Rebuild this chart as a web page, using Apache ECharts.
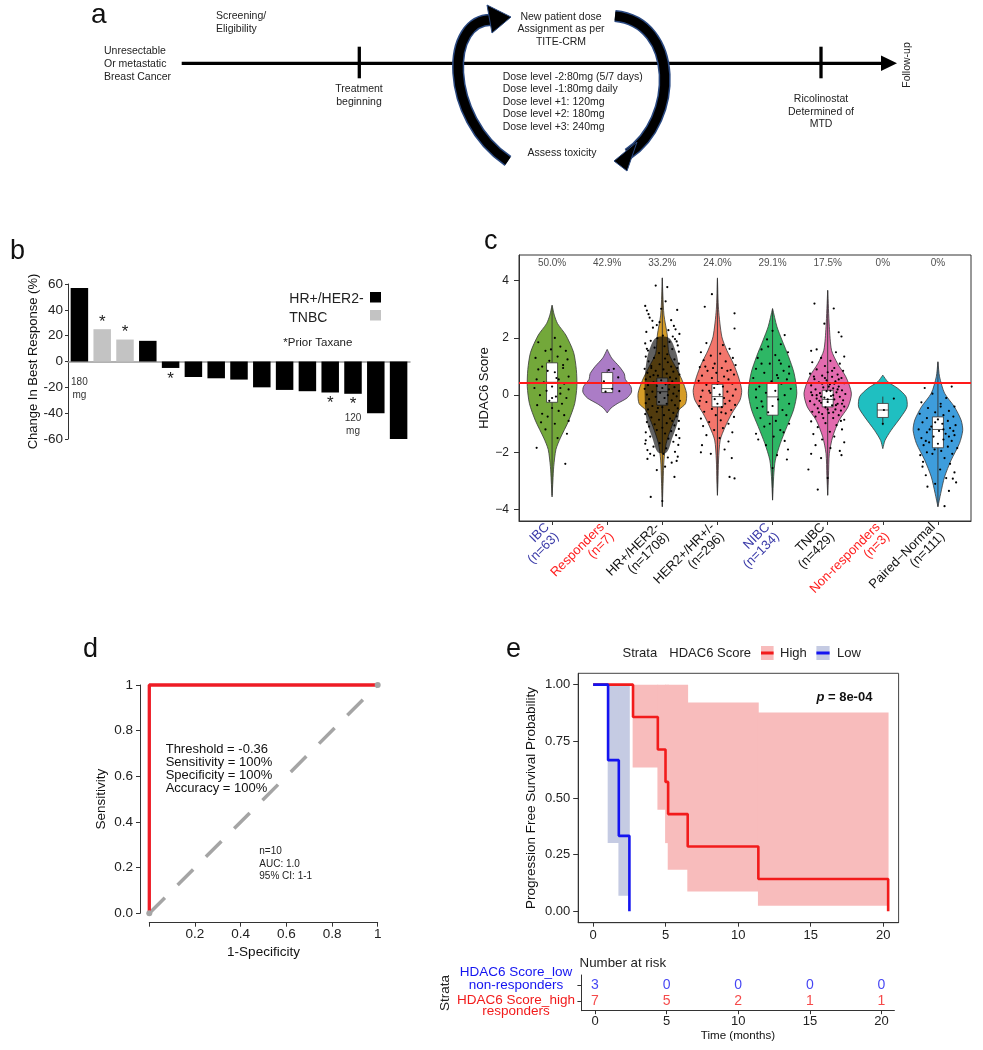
<!DOCTYPE html>
<html>
<head>
<meta charset="utf-8">
<title>Ricolinostat / HDAC6 figure</title>
<script src="https://cdn.jsdelivr.net/npm/echarts@6/dist/echarts.min.js"></script>
<style>
  html, body { margin: 0; background: #fff; }
  #chart { width: 983px; height: 1050px; }
</style>
</head>
<body>
<div id="chart"></div>
<script>
// ---- b: best response waterfall ----
const patients = ['1','2','3','4','5','6','7','8','9','10','11','12','13','14','15'];
const bestResponse = [57, 25, 17, 16, -5, -12, -13, -14, -20, -22, -23, -24, -25, -40, -60];
const subtype = ['HR','TNBC','TNBC','HR','HR','HR','HR','HR','HR','HR','HR','HR','HR','HR','HR'];
const priorTaxane = [0, 1, 1, 0, 1, 0, 0, 0, 0, 0, 0, 1, 1, 0, 0];
const doseNote = ['180\nmg', '', '', '', '', '', '', '', '', '', '', '', '120\nmg', '', ''];

// ---- c: HDAC6 score violins ----
const groupNames = ['IBC', 'Responders', 'HR+/HER2-', 'HER2+/HR+/-', 'NIBC', 'TNBC', 'Non-responders', 'Paired−Normal'];
const groupN = [63, 7, 1708, 296, 134, 429, 3, 111];
const highPct = ['50.0%', '42.9%', '33.2%', '24.0%', '29.1%', '17.5%', '0%', '0%'];
const hdac6Cutoff = 0.45;
const scoreTicks = [-4, -2, 0, 2, 4];
// density outline: score levels and half widths (in category units)
const violinY = [
  [3.15, 2.8, 2.5, 2.1, 1.5, 0.9, 0.3, -0.3, -0.9, -1.5, -1.9, -2.5, -3.0, -3.56],
  [1.6, 1.3, 1.0, 0.75, 0.55, 0.3, 0.1, -0.1, -0.3, -0.45, -0.62],
  [4.1, 3.5, 2.8, 2.1, 1.46, 0.99, 0.52, 0.06, -0.3, -0.52, -1.1, -1.69, -2.27, -3.0, -3.9],
  [4.1, 3.0, 2.04, 1.57, 1.1, 0.64, 0.17, -0.17, -0.64, -1.11, -1.57, -2.27, -3.0, -3.5],
  [3.03, 2.39, 1.93, 1.35, 0.77, 0.07, -0.52, -1.1, -1.69, -2.27, -2.85, -3.67],
  [3.67, 2.39, 1.57, 1.1, 0.64, 0.07, -0.41, -0.87, -1.46, -2.04, -2.8, -3.5],
  [0.7, 0.47, 0.24, -0.05, -0.41, -0.76, -1.23, -1.58, -1.87],
  [1.17, 0.64, 0.07, -0.41, -0.87, -1.23, -1.69, -2.27, -2.86, -3.44, -3.9]
];
const violinHW = [
  [0, 0.04, 0.1, 0.25, 0.39, 0.44, 0.45, 0.41, 0.30, 0.15, 0.07, 0.03, 0.015, 0],
  [0, 0.08, 0.22, 0.31, 0.33, 0.43, 0.44, 0.36, 0.18, 0.07, 0],
  [0, 0.01, 0.03, 0.09, 0.12, 0.24, 0.36, 0.44, 0.42, 0.30, 0.17, 0.07, 0.03, 0.015, 0],
  [0, 0.02, 0.08, 0.17, 0.29, 0.38, 0.44, 0.41, 0.26, 0.14, 0.05, 0.02, 0.01, 0],
  [0, 0.08, 0.17, 0.29, 0.39, 0.44, 0.38, 0.26, 0.14, 0.05, 0.02, 0],
  [0, 0.03, 0.07, 0.18, 0.33, 0.43, 0.37, 0.21, 0.09, 0.03, 0.015, 0],
  [0, 0.09, 0.27, 0.42, 0.44, 0.33, 0.15, 0.04, 0],
  [0, 0.03, 0.12, 0.30, 0.42, 0.45, 0.39, 0.24, 0.12, 0.05, 0]
];
// q1, median, q3
const boxStats = [[-0.25, 0.45, 1.13], [0.09, 0.23, 0.79], [-0.35, 0.12, 0.6], [-0.41, -0.05, 0.38],
  [-0.7, -0.06, 0.41], [-0.41, -0.15, 0.17], [-0.78, -0.52, -0.29], [-1.84, -1.2, -0.76]];
const whiskers = [[-3.5, 3.1], [0.09, 0.9], [-3.9, 4.1], [-3.5, 4.05], [-3.67, 3.0], [-3.5, 3.65], [-1.05, -0.05], [-3.9, 1.15]];
// dense point cloud of HR+/HER2- (too many samples to show one by one)
const hrDenseY = [2.0, 1.5, 1.0, 0.5, 0.0, -0.5, -1.0, -1.5, -2.0];
const hrDenseHW = [0.12, 0.25, 0.3, 0.32, 0.32, 0.31, 0.27, 0.18, 0.08];
// jittered samples: [offset from group centre, score]
const ptsIBC = [[-0.25,1.85],[0.05,2.0],[0.15,1.7],[-0.12,1.55],[0.25,1.55],[-0.3,1.3],[0.1,1.35],[-0.05,1.2],[0.28,1.25],[-0.18,1.0],[0.2,0.95],[-0.08,0.85],[0.05,0.8],[0.3,0.65],[-0.28,0.55],[0.12,0.55],[-0.15,0.45],[0.22,0.4],[0.0,0.3],[-0.32,0.25],[0.3,0.2],[-0.1,0.15],[0.15,0.05],[-0.22,0.0],[0.07,-0.05],[0.26,-0.1],[-0.05,-0.2],[0.18,-0.3],[-0.27,-0.35],[0.0,-0.45],[0.12,-0.55],[-0.18,-0.65],[0.22,-0.7],[-0.08,-0.75],[0.3,-0.9],[-0.2,-0.95],[0.05,-1.0],[0.27,-1.35],[-0.12,-1.2],[0.1,-1.5],[-0.28,-1.84],[0.24,-2.4],[0.08,0.6],[-0.02,1.6],[0.2,1.05],[-0.25,0.9],[0.0,-0.1],[0.15,0.25]];
const ptsResp = [[0.03,0.88],[0.12,0.92],[0.2,0.62],[-0.06,0.48],[0.09,0.22],[-0.03,0.12],[0.22,0.14]];
const ptsHR = [[-0.12,3.83],[0.09,3.78],[0.06,3.28],[-0.02,3.02],[-0.28,2.96],[-0.25,2.83],[-0.31,3.12],[-0.23,2.71],[0.27,2.98],[0.16,2.62],[-0.05,2.55],[0.21,2.42],[-0.17,2.36],[0.11,2.27],[-0.29,2.21],[0.31,2.14],[0.01,2.08],[-0.09,1.99],[0.23,1.96],[-0.21,1.9],[0.13,1.86],[-0.31,1.81],[0.28,1.74],[0.04,1.71],[-0.14,1.66],[0.18,1.61],[-0.26,1.56],[0.3,1.52],[-0.06,1.47],[0.09,1.43],[0.24,2.3],[-0.18,2.6],[0.26,1.88],[-0.28,1.62],[0.19,2.05],[-0.1,2.45],
  [-0.3,1.35],[-0.15,1.3],[0.05,1.28],[0.22,1.25],[-0.25,1.18],[0.1,1.15],[0.3,1.1],[-0.05,1.08],[-0.2,1.02],[0.16,1.0],[0.27,0.95],[-0.32,0.92],[0.02,0.9],[-0.12,0.85],[0.2,0.82],[-0.27,0.78],[0.08,0.75],[0.31,0.72],[-0.08,0.68],[-0.22,0.64],[0.14,0.62],[0.25,0.58],[-0.3,0.55],[-0.02,0.52],[0.18,0.48],[-0.16,0.45],[0.29,0.42],[0.06,0.38],[-0.26,0.35],[-0.1,0.32],[0.22,0.28],[0.0,0.25],[-0.32,0.22],[0.12,0.2],[0.3,0.15],[-0.18,0.12],[-0.04,0.08],[0.2,0.05],[-0.28,0.02],[0.1,0.0],[0.26,-0.04],[-0.12,-0.06],[0.04,-0.1],[-0.24,-0.14],[0.17,-0.18],[0.32,-0.2],[-0.06,-0.24],[-0.3,-0.28],[0.08,-0.3],[0.23,-0.35],[-0.18,-0.38],[0.0,-0.42],[0.28,-0.46],[-0.26,-0.5],[0.12,-0.52],[-0.1,-0.58],[0.2,-0.62],[-0.31,-0.66],[0.03,-0.7],[0.26,-0.74],[-0.2,-0.78],[0.14,-0.82],[-0.06,-0.86],[0.3,-0.9],[-0.28,-0.94],[0.08,-0.98],[-0.14,-1.02],[0.22,-1.06],[-0.24,-1.1],[0.0,-1.14],[0.3,-1.18],[-0.1,-1.22],[0.16,-1.26],[-0.3,-1.3],[0.05,-1.34],[-0.2,0.95],[0.13,0.4],[-0.08,-0.45],[0.18,-0.9],[-0.16,0.7],
  [0.25,-1.4],[-0.22,-1.45],[0.11,-1.52],[-0.3,-1.58],[0.2,-1.63],[-0.05,-1.68],[0.29,-1.74],[-0.16,-1.8],[0.07,-1.86],[-0.27,-1.92],[0.23,-1.98],[-0.22,-2.05],[-0.15,-2.11],[0.1,-2.18],[-0.27,-2.23],[0.26,-2.3],[0.17,-2.36],[0.05,-2.5],[-0.1,-2.62],[0.28,-2.15],[0.22,-2.86],[-0.21,-3.56],[0.0,-3.7],[-0.31,-1.7],[0.31,-1.5],[0.02,-2.05]];
const ptsHER2 = [[-0.1,3.53],[-0.23,3.09],[0.31,2.86],[0.31,2.33],[-0.2,1.82],[0.1,1.75],[-0.3,1.5],[0.22,1.62],[0.05,1.45],[-0.12,1.38],[0.28,1.3],[-0.25,1.22],[0.15,1.18],[-0.05,1.1],[0.33,1.05],[-0.32,0.98],[0.08,0.95],[0.24,0.88],[-0.18,0.85],[-0.02,0.78],[0.3,0.72],[-0.28,0.68],[0.12,0.65],[-0.1,0.6],[0.2,0.55],[-0.34,0.5],[0.02,0.45],[0.27,0.4],[-0.2,0.36],[0.1,0.3],[-0.06,0.25],[0.33,0.2],[-0.27,0.16],[0.18,0.12],[-0.13,0.08],[0.04,0.02],[0.28,-0.02],[-0.3,-0.06],[0.12,-0.1],[-0.05,-0.14],[0.22,-0.2],[-0.2,-0.24],[0.0,-0.3],[0.32,-0.34],[-0.33,-0.38],[0.08,-0.42],[-0.1,-0.48],[0.25,-0.52],[-0.24,-0.58],[0.15,-0.64],[-0.03,-0.7],[0.3,-0.76],[-0.3,-0.82],[0.06,-0.88],[-0.15,-0.94],[0.2,-1.0],[-0.26,-1.08],[0.1,-1.15],[-0.06,-1.22],[0.27,-1.3],[-0.2,-1.4],[0.04,-1.5],[0.2,-1.62],[-0.28,-1.75],[0.13,-1.9],[-0.12,-2.05],[0.26,-2.2],[-0.3,-2.0],[0.22,-2.86],[0.31,-2.91],[0.0,0.4],[-0.15,0.15],[0.14,-0.3],[-0.08,0.95],[0.07,-0.6],[-0.22,1.0],[0.18,0.85],[-0.32,-0.2]];
const ptsNIBC = [[0.0,2.25],[0.22,2.1],[-0.1,1.95],[0.15,1.78],[-0.2,1.6],[0.28,1.5],[0.05,1.4],[-0.27,1.3],[0.12,1.22],[-0.05,1.1],[0.3,1.0],[-0.3,0.92],[0.2,0.85],[-0.15,0.78],[0.08,0.7],[-0.35,0.6],[0.26,0.55],[-0.02,0.48],[0.16,0.4],[-0.24,0.3],[0.33,0.22],[0.05,0.15],[-0.12,0.08],[0.22,0.0],[-0.3,-0.08],[0.1,-0.15],[-0.2,-0.22],[0.3,-0.3],[0.0,-0.38],[-0.28,-0.45],[0.18,-0.52],[-0.08,-0.6],[0.25,-0.7],[-0.22,-0.8],[0.06,-0.9],[0.3,-1.0],[-0.15,-1.1],[0.14,-1.22],[-0.3,-1.35],[0.02,-1.45],[0.22,-1.6],[-0.12,-1.75],[0.28,-1.9],[-0.26,-1.55],[0.08,-2.1],[0.0,-2.55],[-0.08,1.7],[0.1,0.6],[-0.18,-0.4],[0.2,-1.3],[-0.3,0.2],[0.3,0.75],[-0.05,-1.0],[0.15,1.1],[-0.2,1.1],[0.26,-2.25]];
const ptsTNBC = [[-0.24,3.2],[0.11,3.03],[-0.06,2.5],[0.25,2.05],[0.2,2.2],[-0.3,1.55],[-0.2,1.6],[0.15,1.5],[0.3,1.35],[-0.12,1.3],[0.05,1.2],[-0.28,1.15],[0.22,1.1],[-0.05,1.02],[0.12,0.95],[-0.2,0.9],[0.28,0.85],[0.0,0.8],[-0.32,0.75],[0.18,0.72],[-0.1,0.68],[0.08,0.64],[0.25,0.6],[-0.24,0.56],[-0.02,0.52],[0.14,0.48],[-0.16,0.45],[0.3,0.42],[0.04,0.38],[-0.3,0.34],[0.2,0.3],[-0.08,0.27],[0.1,0.24],[-0.22,0.2],[0.26,0.17],[-0.02,0.14],[0.16,0.1],[-0.14,0.07],[0.32,0.04],[-0.28,0.0],[0.06,-0.03],[0.22,-0.06],[-0.06,-0.09],[-0.2,-0.12],[0.12,-0.15],[0.28,-0.18],[-0.32,-0.21],[0.0,-0.24],[-0.12,-0.27],[0.18,-0.3],[-0.24,-0.33],[0.08,-0.36],[0.3,-0.4],[-0.04,-0.43],[-0.18,-0.46],[0.14,-0.5],[0.24,-0.54],[-0.28,-0.58],[0.02,-0.62],[-0.1,-0.66],[0.2,-0.7],[-0.22,-0.75],[0.1,-0.8],[0.3,-0.86],[-0.3,-0.92],[-0.04,-0.98],[0.16,-1.05],[-0.18,-1.12],[0.26,-1.2],[0.04,-1.28],[-0.26,-1.36],[0.12,-1.45],[-0.1,-1.55],[0.3,-1.65],[-0.22,-1.75],[0.05,-1.85],[0.22,-1.95],[-0.3,-2.05],[-0.12,-2.2],[0.25,-2.1],[-0.35,-2.6],[0.0,-2.9],[-0.18,-3.3],[0.1,0.0],[-0.1,0.4],[0.0,-0.5],[0.05,0.15],[-0.15,-0.2],[0.2,0.55],[-0.08,-0.8],[0.15,-0.35],[-0.25,0.65],[0.02,0.3],[-0.05,0.6],[0.1,-0.6],[0.26,-0.3],[-0.3,0.1],[0.08,0.85],[-0.12,-0.05],[0.18,0.2],[0.0,-0.15],[-0.2,0.0],[0.12,0.4],[0.24,-0.9],[-0.16,-0.6]];
const ptsNonResp = [[0.2,-0.12],[0.02,-0.52],[0.0,-1.0]];
const ptsNormal = [[-0.24,0.25],[0.25,0.3],[-0.1,0.05],[0.15,-0.1],[-0.3,-0.25],[0.05,-0.3],[0.3,-0.4],[-0.18,-0.45],[0.2,-0.55],[-0.05,-0.6],[-0.33,-0.65],[0.1,-0.7],[0.28,-0.75],[-0.2,-0.8],[0.0,-0.85],[0.18,-0.9],[-0.28,-0.95],[0.08,-1.0],[0.32,-1.05],[-0.12,-1.1],[0.22,-1.15],[-0.35,-1.2],[0.02,-1.25],[-0.2,-1.3],[0.14,-1.35],[0.3,-1.4],[-0.08,-1.45],[-0.3,-1.5],[0.1,-1.55],[0.25,-1.6],[-0.16,-1.65],[0.0,-1.7],[-0.26,-1.75],[0.18,-1.8],[0.35,-1.85],[-0.06,-1.9],[0.06,-1.95],[-0.2,-2.0],[0.26,-2.05],[-0.32,-2.1],[0.12,-2.2],[-0.27,-2.33],[0.22,-2.4],[-0.28,-2.5],[0.04,-2.6],[0.3,-2.7],[-0.22,-2.8],[0.15,-2.9],[-0.19,-3.2],[0.27,-2.92],[0.33,-3.05],[-0.05,-3.1],[0.2,-3.35],[0.12,-3.88],[-0.15,-1.2],[0.1,-1.2],[-0.05,-0.95],[0.2,-1.45],[-0.22,-1.6],[0.05,-0.4],[-0.1,-2.05],[0.28,-1.25]];
const groupPoints = [ptsIBC, ptsResp, ptsHR, ptsHER2, ptsNIBC, ptsTNBC, ptsNonResp, ptsNormal];

// ---- d: ROC ----
const rocFpr = [0, 0, 1];
const rocTpr = [0, 1, 1];
const chanceFpr = [0, 1];
const chanceTpr = [0, 1];

// ---- e: Kaplan-Meier ----
const lowTimes = [0, 1.03, 1.77, 2.5];
const lowSurv = [1, 0.667, 0.333, 0];
const lowCiLower = [1, 0.301, 0.069];
const lowCiUpper = [1, 1, 1];
const highTimes = [0, 2.75, 4.46, 4.99, 5.17, 6.52, 11.39, 20.34];
const highSurv = [1, 0.857, 0.714, 0.571, 0.429, 0.286, 0.143, 0];
const highCiLower = [1, 0.634, 0.448, 0.301, 0.184, 0.088, 0.025];
const highCiUpper = [1, 1, 1, 1, 1, 0.921, 0.877];
const timeTicks = [0, 5, 10, 15, 20];
const riskTimes = [0, 5, 10, 15, 20];
const riskLow = [3, 0, 0, 0, 0];
const riskHigh = [7, 5, 2, 1, 1];

// ---- styling ----
const FONT = 'Liberation Sans, Arial, sans-serif';
const violinColors = ['#73a83a', '#ab7cc6', '#d59c27', '#f3766c', '#2eb765', '#e26bae', '#1fbfc1', '#3e9ddc'];
const labelTone = ['b', 'r', 'k', 'k', 'b', 'k', 'r', 'k'];
const RED = '#f21b1b', BLUE = '#1414f0';

const chart = echarts.init(document.getElementById('chart'));

function violinItem(params, api) {
  const g = api.value(2);
  const cx = g + 1;
  const ys = violinY[g], ws = violinHW[g];
  const right = ys.map((y, k) => api.coord([cx + ws[k], y]));
  const left = ys.map((y, k) => api.coord([cx - ws[k], y])).reverse();
  const st = boxStats[g];
  const a = api.coord([cx - 0.1, st[2]]), b = api.coord([cx + 0.1, st[0]]);
  const m1 = api.coord([cx - 0.1, st[1]]), m2 = api.coord([cx + 0.1, st[1]]);
  const w1 = api.coord([cx, whiskers[g][1]]), w2 = api.coord([cx, whiskers[g][0]]);
  return {
    type: 'group',
    children: [
      { type: 'polygon', shape: { points: right.concat(left), smooth: 0.25 },
        style: { fill: violinColors[g], stroke: '#3a3a3a', lineWidth: 0.8 } },
      { type: 'line', shape: { x1: w1[0], y1: w1[1], x2: w2[0], y2: w2[1] }, style: { stroke: '#333', lineWidth: 0.9 } },
      { type: 'rect', shape: { x: a[0], y: a[1], width: b[0] - a[0], height: b[1] - a[1] },
        style: { fill: '#fff', stroke: '#333', lineWidth: 0.8 } },
      { type: 'line', shape: { x1: m1[0], y1: m1[1], x2: m2[0], y2: m2[1] }, style: { stroke: '#333', lineWidth: 0.8 } }
    ]
  };
}

function denseItem(params, api) {
  const cx = api.value(0);
  const right = hrDenseY.map((y, k) => api.coord([cx + hrDenseHW[k], y]));
  const left = hrDenseY.map((y, k) => api.coord([cx - hrDenseHW[k], y])).reverse();
  return { type: 'polygon', shape: { points: right.concat(left), smooth: 0.3 },
    style: { fill: 'rgba(0,0,0,0.62)' } };
}

function bandItem(params, api) {
  const p0 = api.coord([api.value(0), api.value(3)]);
  const p1 = api.coord([api.value(1), api.value(2)]);
  // small overlap hides anti-aliasing seams between neighbouring steps
  return { type: 'rect', shape: { x: p0[0] - 0.4, y: p0[1], width: p1[0] - p0[0] + 0.8, height: p1[1] - p0[1] },
    style: { fill: api.visual('color') } };
}

function bandData(times, lo, hi) {
  const out = [];
  for (let i = 0; i < lo.length; i++) out.push([times[i], times[i + 1], lo[i], hi[i]]);
  return out;
}

const jitter = [];
groupPoints.forEach((arr, g) => arr.forEach(p => jitter.push([g + 1 + p[0], p[1]])));

function barLabel(i, v) {
  const star = priorTaxane[i] ? '{s|*}' : '';
  const note = doseNote[i] ? doseNote[i].split('\n').map(t => '{d|' + t + '}').join('\n') : '';
  const text = [star, note].filter(Boolean).join('\n');
  if (!text) return { show: false };
  return {
    show: true,
    position: v > 0 && !note ? 'top' : 'bottom',
    distance: note && !star ? 14 : (v > 0 ? 0 : 4),
    formatter: text,
    rich: {
      s: { fontSize: 17, lineHeight: 14, color: '#222', fontFamily: FONT },
      d: { fontSize: 10, lineHeight: 13, color: '#333', fontFamily: FONT }
    }
  };
}

const axisGrey = { color: '#333', width: 1 };
const tickText = { color: '#222', fontFamily: FONT };

function txt(x, y, text, size, opt) {
  return Object.assign({
    type: 'text', x: x, y: y,
    style: Object.assign({ text: text, fill: '#222', fontSize: size, fontFamily: FONT,
      textAlign: 'left', textVerticalAlign: 'middle' }, (opt && opt.style) || {})
  }, opt && opt.rotation ? { rotation: opt.rotation } : {});
}

const narrow = 'Liberation Sans Narrow, Liberation Sans, sans-serif';

const graphics = [
  // panel letters
  txt(91, 15, 'a', 28, { style: { fill: '#111' } }),
  txt(10, 252, 'b', 27, { style: { fill: '#111' } }),
  txt(484, 242, 'c', 27, { style: { fill: '#111' } }),
  txt(83, 650, 'd', 27, { style: { fill: '#111' } }),
  txt(506, 650, 'e', 27, { style: { fill: '#111' } }),

  // a: study schema
  { type: 'line', shape: { x1: 181.7, y1: 63.3, x2: 884, y2: 63.3 }, style: { stroke: '#000', lineWidth: 3.3 } },
  { type: 'polygon', shape: { points: [[881, 55.5], [897, 63.3], [881, 71]] }, style: { fill: '#000' } },
  { type: 'line', shape: { x1: 359.3, y1: 46.7, x2: 359.3, y2: 78.3 }, style: { stroke: '#000', lineWidth: 3.3 } },
  { type: 'line', shape: { x1: 821, y1: 46.7, x2: 821, y2: 78.3 }, style: { stroke: '#000', lineWidth: 3.3 } },
  { type: 'bezierCurve', shape: { x1: 508, y1: 161, cpx1: 444, cpy1: 118, cpx2: 444, cpy2: 16, x2: 494, y2: 20 },
    style: { stroke: '#2b4a82', lineWidth: 12, fill: null } },
  { type: 'bezierCurve', shape: { x1: 508, y1: 161, cpx1: 444, cpy1: 118, cpx2: 444, cpy2: 16, x2: 494, y2: 20 },
    style: { stroke: '#000', lineWidth: 9, fill: null } },
  { type: 'polygon', shape: { points: [[487, 5], [511, 17], [492, 33]] }, style: { fill: '#000', stroke: '#2b4a82', lineWidth: 1 } },
  { type: 'bezierCurve', shape: { x1: 615, y1: 16, cpx1: 679, cpy1: 22, cpx2: 679, cpy2: 120, x2: 628, y2: 154 },
    style: { stroke: '#2b4a82', lineWidth: 12, fill: null } },
  { type: 'bezierCurve', shape: { x1: 615, y1: 16, cpx1: 679, cpy1: 22, cpx2: 679, cpy2: 120, x2: 628, y2: 154 },
    style: { stroke: '#000', lineWidth: 9, fill: null } },
  { type: 'polygon', shape: { points: [[637, 142], [614, 161], [627, 171]] }, style: { fill: '#000', stroke: '#2b4a82', lineWidth: 1 } },
  txt(104, 51, 'Unresectable', 10.5),
  txt(104, 64, 'Or metastatic', 10.5),
  txt(104, 77, 'Breast Cancer', 10.5),
  txt(216, 16, 'Screening/', 10.5),
  txt(216, 29.3, 'Eligibility', 10.5),
  txt(359, 89.3, 'Treatment', 10.5, { style: { textAlign: 'center' } }),
  txt(359, 101.7, 'beginning', 10.5, { style: { textAlign: 'center' } }),
  txt(561, 16.7, 'New patient dose', 10.5, { style: { textAlign: 'center' } }),
  txt(561, 29.3, 'Assignment as per', 10.5, { style: { textAlign: 'center' } }),
  txt(561, 42.3, 'TITE-CRM', 10.5, { style: { textAlign: 'center' } }),
  txt(502.7, 76.7, 'Dose level -2:80mg (5/7 days)', 10.5),
  txt(502.7, 89.3, 'Dose level -1:80mg daily', 10.5),
  txt(502.7, 101.7, 'Dose level +1: 120mg', 10.5),
  txt(502.7, 114.3, 'Dose level +2: 180mg', 10.5),
  txt(502.7, 127, 'Dose level +3: 240mg', 10.5),
  txt(562, 152.7, 'Assess toxicity', 10.5, { style: { textAlign: 'center' } }),
  txt(821, 99, 'Ricolinostat', 10.5, { style: { textAlign: 'center' } }),
  txt(821, 111.7, 'Determined of', 10.5, { style: { textAlign: 'center' } }),
  txt(821, 124.3, 'MTD', 10.5, { style: { textAlign: 'center' } }),
  txt(907, 65, 'Follow-up', 10.5, { rotation: Math.PI / 2, style: { textAlign: 'center' } }),

  // b: legend
  txt(289.3, 299, 'HR+/HER2-', 14),
  { type: 'rect', shape: { x: 370, y: 292, width: 11, height: 10.5 }, style: { fill: '#000' } },
  txt(289.3, 318, 'TNBC', 14),
  { type: 'rect', shape: { x: 370, y: 310, width: 11, height: 10.5 }, style: { fill: '#c3c3c3' } },
  txt(283.3, 343, '*Prior Taxane', 11.5),

  // d: annotations
  txt(165.7, 749, 'Threshold = -0.36', 13, { style: { fontFamily: narrow, fill: '#111' } }),
  txt(165.7, 762, 'Sensitivity = 100%', 13, { style: { fontFamily: narrow, fill: '#111' } }),
  txt(165.7, 775, 'Specificity = 100%', 13, { style: { fontFamily: narrow, fill: '#111' } }),
  txt(165.7, 788, 'Accuracy = 100%', 13, { style: { fontFamily: narrow, fill: '#111' } }),
  txt(259.3, 851.7, 'n=10', 10),
  txt(259.3, 864, 'AUC: 1.0', 10),
  txt(259.3, 876.7, '95% CI: 1-1', 10),

  // e: legend, p value, risk table labels
  txt(622.5, 653.3, 'Strata', 13),
  txt(669.3, 653.3, 'HDAC6 Score', 13),
  { type: 'rect', shape: { x: 761, y: 646, width: 12.6, height: 14 }, style: { fill: '#f8bcbc' } },
  { type: 'line', shape: { x1: 761, y1: 653, x2: 773.6, y2: 653 }, style: { stroke: RED, lineWidth: 3 } },
  txt(780, 653.3, 'High', 13),
  { type: 'rect', shape: { x: 816.4, y: 646, width: 13.2, height: 14 }, style: { fill: '#c5cbe3' } },
  { type: 'line', shape: { x1: 816.4, y1: 653, x2: 829.6, y2: 653 }, style: { stroke: BLUE, lineWidth: 3 } },
  txt(837, 653.3, 'Low', 13),
  { type: 'text', x: 816.4, y: 697.3, style: { text: '{i|p} = 8e-04', fill: '#111', fontSize: 13, fontWeight: 'bold',
      fontFamily: FONT, textAlign: 'left', textVerticalAlign: 'middle',
      rich: { i: { fontStyle: 'italic', fontWeight: 'bold', fontSize: 13, fontFamily: FONT } } } },
  txt(579.6, 963.3, 'Number at risk', 13.3),
  txt(516, 972.3, 'HDAC6 Score_low', 13.5, { style: { textAlign: 'center', fill: BLUE } }),
  txt(516, 985.7, 'non-responders', 13.5, { style: { textAlign: 'center', fill: BLUE } }),
  txt(516, 1000.7, 'HDAC6 Score_high', 13.5, { style: { textAlign: 'center', fill: RED } }),
  txt(516, 1011.7, 'responders', 13.5, { style: { textAlign: 'center', fill: RED } }),
  txt(445, 993, 'Strata', 13.5, { rotation: Math.PI / 2, style: { textAlign: 'center' } })
];

const option = {
  animation: false,
  backgroundColor: '#fff',
  textStyle: { fontFamily: FONT },
  graphic: graphics,
  grid: [
    { left: 68, top: 284, width: 342, height: 155 },
    { left: 519, top: 255, width: 452, height: 266, show: true, borderColor: '#333', borderWidth: 1 },
    { left: 149.3, top: 685, width: 228.4, height: 228.3 },
    { left: 578.2, top: 673.3, width: 320.4, height: 249.4, show: true, borderColor: '#444', borderWidth: 1 },
    { left: 581.4, top: 975, width: 313, height: 35.7 }
  ],
  xAxis: [
    { gridIndex: 0, type: 'category', data: patients, axisTick: { show: false }, axisLabel: { show: false },
      axisLine: { onZero: true, lineStyle: { color: '#999', width: 1.5 } } },
    { gridIndex: 1, type: 'value', min: 0.4, max: 8.6, splitLine: { show: false },
      axisLine: { onZero: false, lineStyle: axisGrey },
      axisTick: { show: true, length: 4, customValues: [1, 2, 3, 4, 5, 6, 7, 8], lineStyle: axisGrey },
      axisLabel: { customValues: [1, 2, 3, 4, 5, 6, 7, 8], rotate: 45, margin: 9,
        formatter: v => {
          const i = Math.round(v) - 1, t = labelTone[i];
          return '{' + t + '|' + groupNames[i] + '}\n{' + t + '|(n=' + groupN[i] + ')}';
        },
        rich: {
          b: { color: '#3a3aa8', fontSize: 13, lineHeight: 13.5, fontFamily: FONT },
          r: { color: '#ff2020', fontSize: 13, lineHeight: 13.5, fontFamily: FONT },
          k: { color: '#111', fontSize: 13, lineHeight: 13.5, fontFamily: FONT }
        } } },
    { gridIndex: 2, type: 'value', min: 0, max: 1, interval: 0.2, offset: 9.4, splitLine: { show: false },
      axisLine: { onZero: false, lineStyle: axisGrey },
      axisTick: { length: 4, lineStyle: axisGrey },
      axisLabel: Object.assign({ fontSize: 13.5, margin: 5,
        formatter: v => v === 0 ? '' : (v === 1 ? '1' : v.toFixed(1)) }, tickText),
      name: '1-Specificity', nameLocation: 'middle', nameGap: 23,
      nameTextStyle: { fontSize: 13.5, color: '#111', fontFamily: FONT } },
    { gridIndex: 3, type: 'value', min: -1.03, max: 21.06, splitLine: { show: false },
      axisLine: { onZero: false, lineStyle: axisGrey },
      axisTick: { length: 4, customValues: timeTicks, lineStyle: axisGrey },
      axisLabel: Object.assign({ fontSize: 13, margin: 6.5, customValues: timeTicks }, tickText) },
    { gridIndex: 4, type: 'value', min: -0.95, max: 20.9, splitLine: { show: false },
      axisLine: { onZero: false, lineStyle: axisGrey },
      axisTick: { length: 3.5, customValues: timeTicks, lineStyle: axisGrey },
      axisLabel: Object.assign({ fontSize: 13, margin: 4.3, customValues: timeTicks }, tickText),
      name: 'Time (months)', nameLocation: 'middle', nameGap: 19,
      nameTextStyle: { fontSize: 11.6, color: '#111', fontFamily: FONT } }
  ],
  yAxis: [
    { gridIndex: 0, type: 'value', min: -60, max: 60, interval: 20, splitLine: { show: false },
      axisLine: { show: true, lineStyle: axisGrey },
      axisTick: { show: true, length: 3, lineStyle: axisGrey },
      axisLabel: Object.assign({ fontSize: 13.5, margin: 5 }, tickText),
      name: 'Change In Best Response (%)', nameLocation: 'middle', nameGap: 27,
      nameTextStyle: { fontSize: 13, color: '#111', fontFamily: FONT } },
    { gridIndex: 1, type: 'value', min: -4.4, max: 4.9, splitLine: { show: false },
      axisLine: { show: true, onZero: false, lineStyle: axisGrey },
      axisTick: { show: true, length: 5, customValues: scoreTicks, lineStyle: axisGrey },
      axisLabel: Object.assign({ fontSize: 12, margin: 10, customValues: scoreTicks,
        formatter: v => v < 0 ? '−' + Math.abs(v) : String(v) }, tickText),
      name: 'HDAC6 Score', nameLocation: 'middle', nameGap: 27,
      nameTextStyle: { fontSize: 13, color: '#111', fontFamily: FONT } },
    { gridIndex: 2, type: 'value', min: 0, max: 1, interval: 0.2, offset: 9.3, splitLine: { show: false },
      axisLine: { show: true, onZero: false, lineStyle: axisGrey },
      axisTick: { show: true, length: 4, lineStyle: axisGrey },
      axisLabel: Object.assign({ fontSize: 13.5, margin: 7,
        formatter: v => v === 1 ? '1' : v.toFixed(1) }, tickText),
      name: 'Sensitivity', nameLocation: 'middle', nameGap: 32,
      nameTextStyle: { fontSize: 13.5, color: '#111', fontFamily: FONT } },
    { gridIndex: 3, type: 'value', min: -0.05, max: 1.05, splitLine: { show: false },
      axisLine: { show: true, onZero: false, lineStyle: axisGrey },
      axisTick: { show: true, length: 5, customValues: [0, 0.25, 0.5, 0.75, 1], lineStyle: axisGrey },
      axisLabel: Object.assign({ fontSize: 13, margin: 8, customValues: [0, 0.25, 0.5, 0.75, 1],
        formatter: v => v.toFixed(2) }, tickText),
      name: 'Progression Free Survival Probability', nameLocation: 'middle', nameGap: 40,
      nameTextStyle: { fontSize: 13.5, color: '#111', fontFamily: FONT } },
    { gridIndex: 4, type: 'value', min: 0.394, max: 2.625, splitLine: { show: false },
      axisLine: { show: true, onZero: false, lineStyle: axisGrey },
      axisTick: { show: true, length: 4, customValues: [1, 2], lineStyle: axisGrey },
      axisLabel: { show: false } }
  ],
  series: [
    // b
    { type: 'bar', xAxisIndex: 0, yAxisIndex: 0, barWidth: 17.5,
      data: bestResponse.map((v, i) => ({
        value: v,
        itemStyle: { color: subtype[i] === 'TNBC' ? '#c3c3c3' : '#000' },
        label: barLabel(i, v)
      })) },
    // c
    { type: 'custom', xAxisIndex: 1, yAxisIndex: 1, renderItem: violinItem,
      data: groupNames.map((n, i) => [i + 1, 0, i]), z: 2 },
    { type: 'custom', xAxisIndex: 1, yAxisIndex: 1, renderItem: denseItem,
      data: [[groupNames.indexOf('HR+/HER2-') + 1, 0]], z: 3 },
    { type: 'scatter', xAxisIndex: 1, yAxisIndex: 1, data: jitter, symbolSize: 2.2,
      itemStyle: { color: '#000', opacity: 1 }, z: 4,
      markLine: { silent: true, symbol: 'none', label: { show: false },
        lineStyle: { color: '#ff1a1a', width: 2, type: 'solid' }, data: [{ yAxis: hdac6Cutoff }] } },
    { type: 'scatter', xAxisIndex: 1, yAxisIndex: 1, symbolSize: 0, z: 5,
      data: highPct.map((p, i) => [i + 1, 4.6]),
      itemStyle: { color: 'transparent' },
      label: { show: true, position: 'inside', formatter: p => highPct[p.dataIndex],
        fontSize: 10, color: '#222', fontFamily: FONT } },
    // d
    { type: 'line', xAxisIndex: 2, yAxisIndex: 2, data: chanceFpr.map((x, i) => [x, chanceTpr[i]]),
      symbol: 'circle', symbolSize: 6, showSymbol: true, clip: false,
      itemStyle: { color: '#a5a5a5' },
      lineStyle: { color: '#a5a5a5', width: 3.5, type: [22, 18] } },
    { type: 'line', xAxisIndex: 2, yAxisIndex: 2, data: rocFpr.map((x, i) => [x, rocTpr[i]]),
      symbol: 'none', clip: false, lineStyle: { color: '#ee1c25', width: 3.3 } },
    // e
    { type: 'custom', xAxisIndex: 3, yAxisIndex: 3, renderItem: bandItem, itemStyle: { color: '#f8bcbc' },
      encode: { x: [0, 1], y: [2, 3] }, data: bandData(highTimes, highCiLower, highCiUpper) },
    { type: 'custom', xAxisIndex: 3, yAxisIndex: 3, renderItem: bandItem, itemStyle: { color: '#c5cbe3' },
      encode: { x: [0, 1], y: [2, 3] }, data: bandData(lowTimes, lowCiLower, lowCiUpper) },
    { type: 'line', xAxisIndex: 3, yAxisIndex: 3, step: 'end', symbol: 'none',
      data: highTimes.map((t, i) => [t, highSurv[i]]), lineStyle: { color: RED, width: 2.6 } },
    { type: 'line', xAxisIndex: 3, yAxisIndex: 3, step: 'end', symbol: 'none',
      data: lowTimes.map((t, i) => [t, lowSurv[i]]), lineStyle: { color: BLUE, width: 2.6 } },
    // risk table
    { type: 'scatter', xAxisIndex: 4, yAxisIndex: 4, symbolSize: 0, itemStyle: { color: 'transparent' },
      data: riskTimes.map((t, i) => [t, 2, riskLow[i]]),
      label: { show: true, position: 'inside', formatter: p => String(p.value[2]), fontSize: 14, color: BLUE, fontFamily: FONT } },
    { type: 'scatter', xAxisIndex: 4, yAxisIndex: 4, symbolSize: 0, itemStyle: { color: 'transparent' },
      data: riskTimes.map((t, i) => [t, 1, riskHigh[i]]),
      label: { show: true, position: 'inside', formatter: p => String(p.value[2]), fontSize: 14, color: RED, fontFamily: FONT } }
  ]
};

chart.setOption(option);
</script>
</body>
</html>
